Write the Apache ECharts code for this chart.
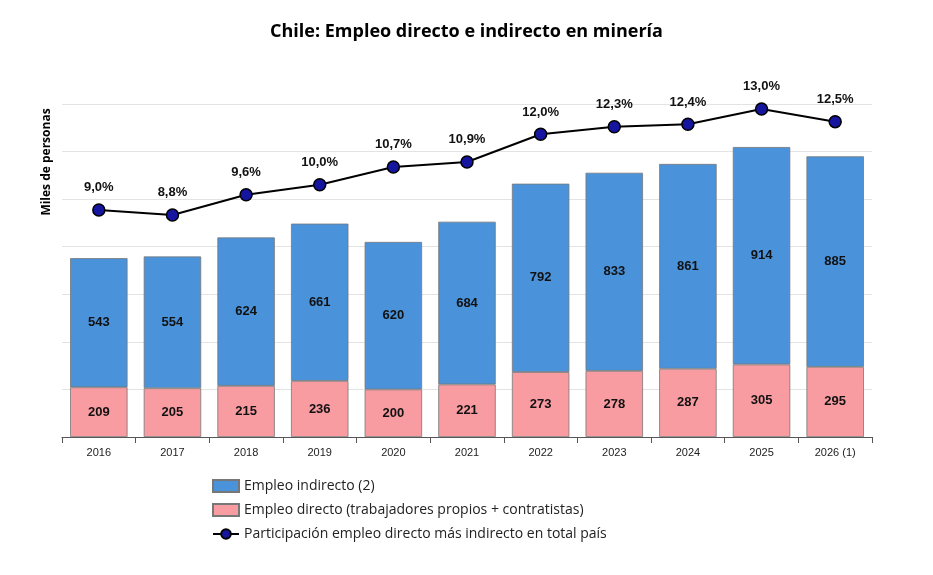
<!DOCTYPE html>
<html><head><meta charset="utf-8">
<script src="https://cdn.jsdelivr.net/npm/echarts@6/dist/echarts.min.js"></script>
<style>html,body{margin:0;background:#fff}#c{width:933px;height:575px}</style></head>
<body><div id="c"></div>
<script>
const categories=['2016','2017','2018','2019','2020','2021','2022','2023','2024','2025','2026 (1)'];
const directo=[209,205,215,236,200,221,273,278,287,305,295];
const indirecto=[543,554,624,661,620,684,792,833,861,914,885];
const participacion=[9.0,8.8,9.6,10.0,10.7,10.9,12.0,12.3,12.4,13.0,12.5];
const fmt=v=>v.toFixed(1).replace('.',',')+'%';
const chart=echarts.init(document.getElementById('c'));
chart.setOption({
 animation:false,
 title:{text:'Chile: Empleo directo e indirecto en minería',left:'center',top:18,textStyle:{fontSize:18,fontWeight:'bold',color:'#000',fontFamily:'Open Sans'}},
 graphic:[{type:'text',x:47,y:162,rotation:Math.PI/2,style:{text:'Miles de personas',fontSize:12,fontWeight:'bold',fill:'#000',align:'center',verticalAlign:'middle',fontFamily:'Open Sans'}}],
 grid:{left:62,right:61,top:104,bottom:138},
 legend:{orient:'vertical',left:207,top:474,itemGap:10,itemWidth:26,itemHeight:12,
  textStyle:{fontSize:14,color:'#222',fontFamily:'Open Sans'},
  data:[{name:'Empleo indirecto (2)',icon:'rect'},{name:'Empleo directo (trabajadores propios + contratistas)',icon:'rect'},{name:'Participación empleo directo más indirecto en total país'}]},
 xAxis:{type:'category',data:categories,axisLine:{lineStyle:{color:'#555'}},axisTick:{show:true,interval:0,length:6,lineStyle:{color:'#555'}},
  axisLabel:{fontSize:11,color:'#222',margin:10}},
 yAxis:[{type:'value',min:0,max:1400,interval:200,
   axisLabel:{show:false},axisLine:{show:false},axisTick:{show:false},splitLine:{lineStyle:{color:'#e3e3e3'}}},
  {type:'value',min:0,max:13.2,show:false}],
 series:[
  {name:'Empleo directo (trabajadores propios + contratistas)',type:'bar',stack:'a',data:directo,barWidth:'78%',
   itemStyle:{color:'#f99ca2',borderColor:'#777',borderWidth:0.8},
   label:{show:true,position:'inside',fontSize:13,fontWeight:'bold',color:'#111'}},
  {name:'Empleo indirecto (2)',type:'bar',stack:'a',data:indirecto,
   itemStyle:{color:'#4a93da',borderColor:'#777',borderWidth:0.8},
   label:{show:true,position:'inside',fontSize:13,fontWeight:'bold',color:'#111'}},
  {name:'Participación empleo directo más indirecto en total país',type:'line',yAxisIndex:1,data:participacion,
   symbol:'circle',symbolSize:12,lineStyle:{color:'#000',width:2},itemStyle:{color:'#1515a0',borderColor:'#000',borderWidth:1.5},
   label:{show:true,position:'top',distance:9,fontSize:13,fontWeight:'bold',color:'#111',formatter:p=>fmt(p.value)}}
 ]
});
</script></body></html>
